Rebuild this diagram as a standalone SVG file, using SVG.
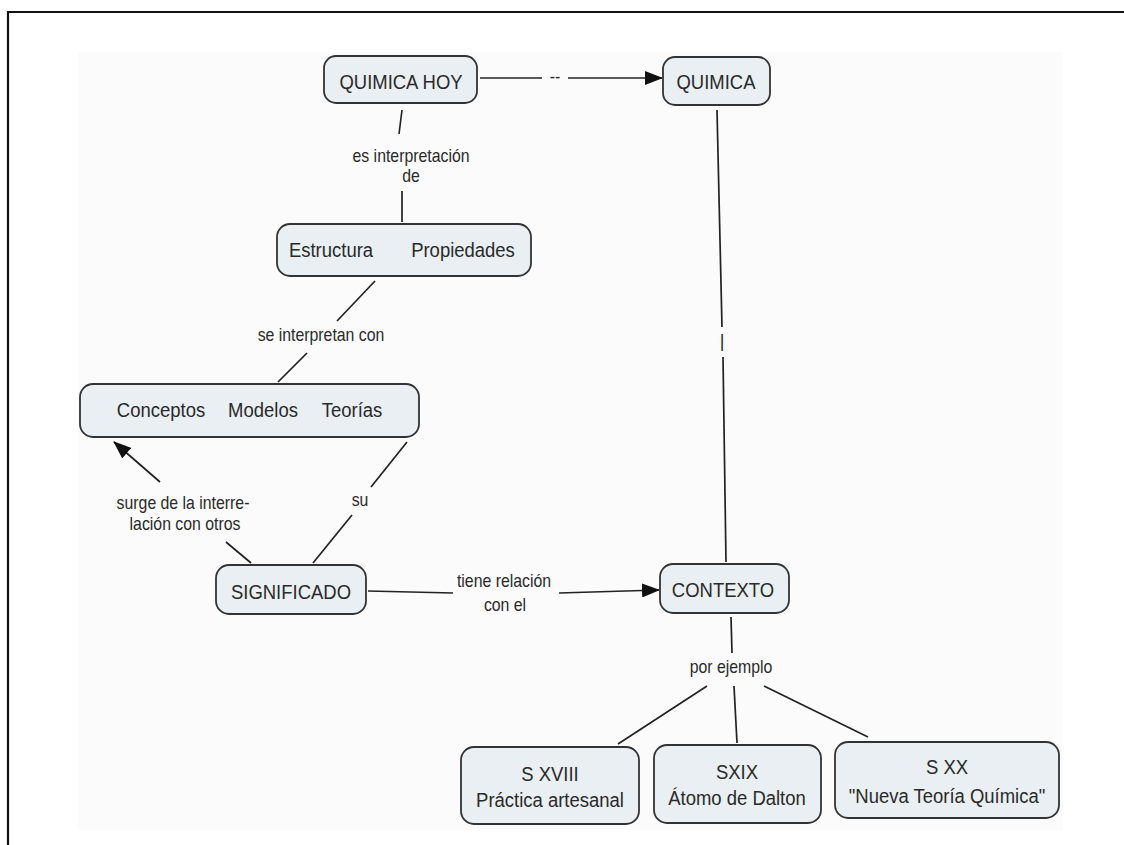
<svg xmlns="http://www.w3.org/2000/svg" width="1124" height="845" viewBox="0 0 1124 845">
  <defs>
    <marker id="arrow" viewBox="0 0 18 14" refX="17" refY="7" markerWidth="18" markerHeight="14" markerUnits="userSpaceOnUse" orient="auto">
      <path d="M0,0 L18,7 L0,14 z" fill="#111"/>
    </marker>
    <style>
      .node rect { fill: #e9eff3; stroke: #333; stroke-width: 1.8; }
      .node text { font-family: "Liberation Sans", Arial, sans-serif; font-size: 21px; fill: #2a2a2a; text-anchor: middle; }
      .conn line { stroke: #222; stroke-width: 1.7; fill: none; }
      .conn .arr { marker-end: url(#arrow); }
      .lbl { font-family: "Liberation Sans", Arial, sans-serif; font-size: 18px; fill: #2a2a2a; text-anchor: middle; }
      .frame { fill: none; stroke: #111; stroke-width: 2.2; }
    </style>
  </defs>

  <rect x="0" y="0" width="1124" height="845" fill="#ffffff"/>
  <rect x="78" y="52" width="985" height="778" fill="#fbfbfb"/>
  <!-- outer frame, open at right and bottom -->
  <path class="frame" d="M8,845 L8,12 L1124,12"/>

  <!-- connectors -->
  <g id="connectors" class="conn">
    <line x1="480" y1="78" x2="542" y2="78"/>
    <line class="arr" x1="568" y1="78" x2="662" y2="78"/>
    <text class="lbl" transform="translate(555 83) scale(0.88 1)">--</text>

    <line x1="402" y1="110" x2="399" y2="134"/>
    <text class="lbl" transform="translate(411 162) scale(0.88 1)">es interpretación</text>
    <text class="lbl" transform="translate(411 182) scale(0.88 1)">de</text>
    <line x1="402" y1="191" x2="402" y2="222"/>

    <line x1="375" y1="281" x2="337" y2="321"/>
    <text class="lbl" transform="translate(321 341) scale(0.88 1)">se interpretan con</text>
    <line x1="307" y1="353" x2="278" y2="382"/>

    <line class="arr" x1="160" y1="482" x2="114" y2="442"/>
    <text class="lbl" transform="translate(183 509) scale(0.88 1)">surge de la interre-</text>
    <text class="lbl" transform="translate(185 530) scale(0.88 1)">lación con otros</text>
    <line x1="226" y1="542" x2="251" y2="563"/>

    <line x1="407" y1="442" x2="371" y2="487"/>
    <text class="lbl" transform="translate(360 506) scale(0.88 1)">su</text>
    <line x1="352" y1="515" x2="313" y2="563"/>

    <line x1="368" y1="591" x2="453" y2="593"/>
    <text class="lbl" transform="translate(504 587) scale(0.88 1)">tiene relación</text>
    <text class="lbl" transform="translate(505 611) scale(0.88 1)">con el</text>
    <line class="arr" x1="559" y1="593" x2="659" y2="590"/>

    <line x1="717" y1="110" x2="722" y2="327"/>
    <text class="lbl" x="722" y="347">|</text>
    <line x1="723" y1="357" x2="726" y2="562"/>

    <line x1="731" y1="617" x2="732" y2="653"/>
    <text class="lbl" transform="translate(731 673) scale(0.88 1)">por ejemplo</text>
    <line x1="707" y1="686" x2="618" y2="744"/>
    <line x1="734" y1="686" x2="737" y2="743"/>
    <line x1="764" y1="686" x2="868" y2="737"/>
  </g>

  <!-- nodes -->
  <g id="quimica-hoy" class="node">
    <rect x="324" y="56" width="153" height="47" rx="12"/>
    <text transform="translate(401 89) scale(0.88 1)">QUIMICA HOY</text>
  </g>
  <g id="quimica" class="node">
    <rect x="663" y="57" width="107" height="48" rx="12"/>
    <text transform="translate(716 89) scale(0.88 1)">QUIMICA</text>
  </g>
  <g id="estructura-propiedades" class="node">
    <rect x="277" y="224" width="254" height="52" rx="13"/>
    <text transform="translate(331 257) scale(0.88 1)">Estructura</text>
    <text transform="translate(463 257) scale(0.88 1)">Propiedades</text>
  </g>
  <g id="conceptos-modelos-teorias" class="node">
    <rect x="80" y="384" width="339" height="53" rx="13"/>
    <text transform="translate(161 417) scale(0.88 1)">Conceptos</text>
    <text transform="translate(263 417) scale(0.88 1)">Modelos</text>
    <text transform="translate(352 417) scale(0.88 1)">Teorías</text>
  </g>
  <g id="significado" class="node">
    <rect x="216" y="565" width="150" height="49" rx="13"/>
    <text transform="translate(291 599) scale(0.88 1)">SIGNIFICADO</text>
  </g>
  <g id="contexto" class="node">
    <rect x="660" y="564" width="129" height="49" rx="13"/>
    <text transform="translate(723 597) scale(0.88 1)">CONTEXTO</text>
  </g>
  <g id="s-xviii" class="node">
    <rect x="461" y="747" width="178" height="77" rx="13"/>
    <text transform="translate(550 781) scale(0.88 1)">S XVIII</text>
    <text transform="translate(550 807) scale(0.88 1)">Práctica artesanal</text>
  </g>
  <g id="s-xix" class="node">
    <rect x="654" y="745" width="167" height="78" rx="13"/>
    <text transform="translate(737 779) scale(0.88 1)">SXIX</text>
    <text transform="translate(737 805) scale(0.88 1)">Átomo de Dalton</text>
  </g>
  <g id="s-xx" class="node">
    <rect x="835" y="742" width="224" height="76" rx="13"/>
    <text transform="translate(947 774) scale(0.88 1)">S XX</text>
    <text transform="translate(947 803) scale(0.88 1)">"Nueva Teoría Química"</text>
  </g>
</svg>
